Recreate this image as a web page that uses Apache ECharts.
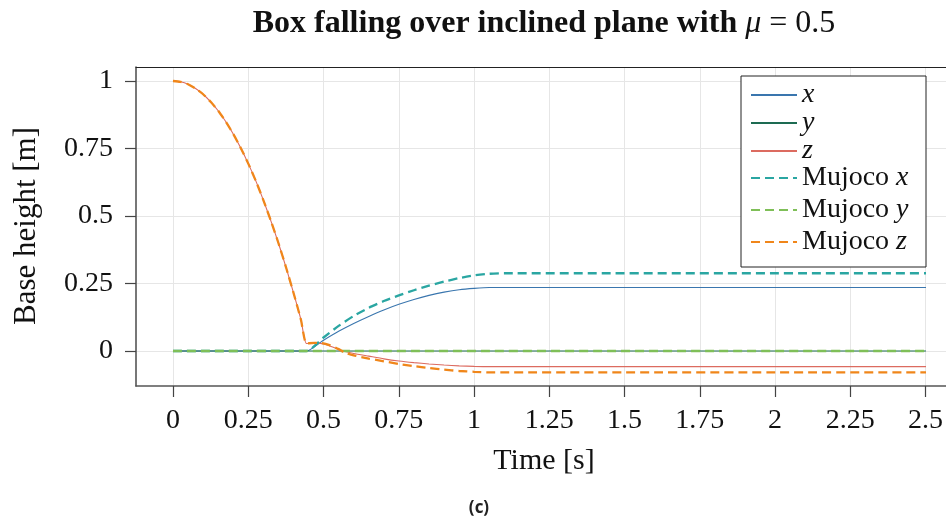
<!DOCTYPE html>
<html>
<head>
<meta charset="utf-8">
<script src="https://cdn.jsdelivr.net/npm/echarts@6/dist/echarts.min.js"></script>
<style>html,body{margin:0;padding:0;background:#fff;}#c{width:946px;height:523px;}</style>
</head>
<body>
<div id="c"></div>
<script>
// ---- data ----
const xTicks = [0, 0.25, 0.5, 0.75, 1, 1.25, 1.5, 1.75, 2, 2.25, 2.5];
const yTicks = [0, 0.25, 0.5, 0.75, 1];

const tZ = [0,0.025,0.05,0.075,0.1,0.125,0.15,0.175,0.2,0.225,0.25,0.275,0.3,0.325,0.35,0.375,0.4,0.425,0.443,
            0.47,0.5,0.53,0.56,0.6,0.65,0.7,0.75,0.8,0.85,0.9,0.95,1.0,1.05,1.1,1.5,2.0,2.5];
const zVals = [1,0.997,0.988,0.972,0.951,0.923,0.89,0.85,0.804,0.752,0.694,0.63,0.559,0.482,0.4,0.311,0.216,0.115,0.028,
            0.030,0.026,0.015,0.001,-0.009,-0.019,-0.029,-0.037,-0.043,-0.048,-0.052,-0.055,-0.057,-0.058,-0.058,-0.058,-0.058,-0.058];

const tMz = [0,0.025,0.05,0.075,0.1,0.125,0.15,0.175,0.2,0.225,0.25,0.275,0.3,0.325,0.35,0.375,0.4,0.425,0.443,
            0.47,0.49,0.52,0.55,0.57,0.6,0.65,0.7,0.75,0.8,0.85,0.9,0.95,1.0,1.05,1.1,1.5,2.0,2.5];
const mzVals = [1,0.997,0.988,0.972,0.951,0.923,0.89,0.85,0.804,0.752,0.694,0.63,0.559,0.482,0.4,0.311,0.216,0.115,0.028,
            0.030,0.030,0.022,0.007,-0.006,-0.016,-0.028,-0.038,-0.048,-0.056,-0.063,-0.069,-0.074,-0.077,-0.079,-0.079,-0.079,-0.079,-0.079];

const tX = [0,0.443,0.5,0.55,0.6,0.65,0.7,0.75,0.8,0.85,0.9,0.95,1.0,1.05,1.1,2.5];
const xVals = [0,0,0.04,0.073,0.102,0.128,0.152,0.173,0.191,0.206,0.218,0.227,0.232,0.235,0.235,0.235];
const mxVals = [0,0,0.05,0.093,0.13,0.16,0.185,0.206,0.225,0.242,0.257,0.27,0.28,0.286,0.288,0.288];

const tY = [0, 2.5];
const yVals = [0, 0];
const myVals = [0, 0];

const titleText = 'Box falling over inclined plane with ';
const xName = 'Time [s]';
const yName = 'Base height [m]';

// ---- build ----
const zip = (t, v) => t.map((ti, i) => [ti, v[i]]);
const SERIF = '"Liberation Serif", "DejaVu Serif", serif';
const FS = 28;
const X0 = -0.1228, X1 = 2.5665, Y0 = -0.1296, Y1 = 1.0519;

const solid = (name, t, v, color) => ({
  name, type: 'line', xAxisIndex: 0, yAxisIndex: 0, data: zip(t, v),
  symbol: 'none', smooth: 0.2, lineStyle: { color, width: 1.1 }, itemStyle: { color }
});
const dashed = (name, t, v, color) => ({
  name, type: 'line', xAxisIndex: 0, yAxisIndex: 0, data: zip(t, v),
  symbol: 'none', smooth: 0.2, lineStyle: { color, width: 2.3, type: [9, 5] }, itemStyle: { color }
});

const legendFmt = name => name.indexOf('Mujoco') === 0 ? 'Mujoco {i|' + name.slice(7) + '}' : '{i|' + name + '}';
const legendBase = (data, top, lh) => ({
  data, orient: 'vertical', left: 750, top, padding: 0, itemGap: 0,
  itemWidth: 46, itemHeight: 14, selectedMode: false, formatter: legendFmt,
  itemStyle: { opacity: 0 },
  textStyle: { fontFamily: SERIF, fontSize: FS, color: '#111', lineHeight: lh,
    rich: { i: { fontFamily: SERIF, fontSize: FS, fontStyle: 'italic', color: '#111', lineHeight: lh } } }
});

const frameAxis = { axisTick: { show: false }, axisLabel: { show: false }, splitLine: { show: false } };

const chart = echarts.init(document.getElementById('c'), null, { renderer: 'canvas' });
chart.setOption({
  animation: false,
  backgroundColor: '#fff',
  grid: [
    { left: 136, right: 0, top: 67, bottom: 137 },
    { left: 173, right: 20, top: 67, bottom: 137 },
    { left: 136, right: 0, top: 81, bottom: 172 }
  ],
  xAxis: [
    Object.assign({ gridIndex: 0, type: 'value', min: X0, max: X1, position: 'bottom',
      axisLine: { show: true, onZero: false, lineStyle: { color: '#555', width: 1.6 } } }, frameAxis),
    { gridIndex: 1, type: 'value', min: 0, max: 2.5, interval: 0.25,
      axisLine: { show: false },
      axisTick: { show: true, inside: false, length: 11, lineStyle: { color: '#444', width: 1.2 } },
      axisLabel: { margin: 21, fontFamily: SERIF, fontSize: FS, color: '#111' },
      splitLine: { show: true, lineStyle: { color: '#e6e6e6', width: 1 } } },
    { gridIndex: 2, type: 'value', min: 0, max: 1, show: false },
    Object.assign({ gridIndex: 0, type: 'value', min: X0, max: X1, position: 'top',
      axisLine: { show: true, onZero: false, lineStyle: { color: '#222', width: 1 } } }, frameAxis)
  ],
  yAxis: [
    Object.assign({ gridIndex: 0, type: 'value', min: Y0, max: Y1, position: 'left',
      axisLine: { show: true, onZero: false, lineStyle: { color: '#555', width: 1.6 } } }, frameAxis),
    { gridIndex: 1, type: 'value', min: 0, max: 1, show: false },
    { gridIndex: 2, type: 'value', min: 0, max: 1, interval: 0.25,
      axisLine: { show: false },
      axisTick: { show: true, inside: false, length: 11, lineStyle: { color: '#444', width: 1.2 } },
      axisLabel: { margin: 23, fontFamily: SERIF, fontSize: FS, color: '#111' },
      splitLine: { show: true, lineStyle: { color: '#e6e6e6', width: 1 } } }
  ],
  legend: [
    legendBase(['x', 'y', 'z'], 81, 26),
    legendBase(['Mujoco x', 'Mujoco y', 'Mujoco z'], 162, 32)
  ],
  graphic: [
    { type: 'rect', z: 3, shape: { x: 741, y: 76, width: 185, height: 191 },
      style: { fill: '#fff', stroke: '#222', lineWidth: 1 } },
    { type: 'text', x: 544, y: 24, z: 5,
      style: { text: '{b|' + titleText + '}{m|μ}{r| = 0.5}', textAlign: 'center', textVerticalAlign: 'middle',
        rich: {
          b: { fontFamily: SERIF, fontSize: 32, fontWeight: 'bold', fill: '#111', color: '#111' },
          m: { fontFamily: SERIF, fontSize: 32, fontStyle: 'italic', fill: '#111', color: '#111' },
          r: { fontFamily: SERIF, fontSize: 32, fill: '#111', color: '#111' }
        } } },
    { type: 'text', x: 544, y: 461, z: 5,
      style: { text: xName, font: '30px ' + SERIF, fill: '#111', textAlign: 'center', textVerticalAlign: 'middle' } },
    { type: 'text', x: 27, y: 226, z: 5, rotation: Math.PI / 2,
      style: { text: yName, font: '31px ' + SERIF, fill: '#111', textAlign: 'center', textVerticalAlign: 'middle' } },
    { type: 'text', x: 479, y: 508, z: 5,
      style: { text: '(c)', font: 'bold 17px "Open Sans", "Noto Sans", sans-serif', fill: '#222', textAlign: 'center', textVerticalAlign: 'middle' } }
  ],
  series: [
    solid('x', tX, xVals, '#3a76ae'),
    solid('y', tY, yVals, '#1d6b52'),
    solid('z', tZ, zVals, '#dc6b60'),
    dashed('Mujoco x', tX, mxVals, '#2aa6a2'),
    dashed('Mujoco y', tY, myVals, '#7fbf58'),
    dashed('Mujoco z', tMz, mzVals, '#f0861a')
  ]
});
</script>
</body>
</html>
